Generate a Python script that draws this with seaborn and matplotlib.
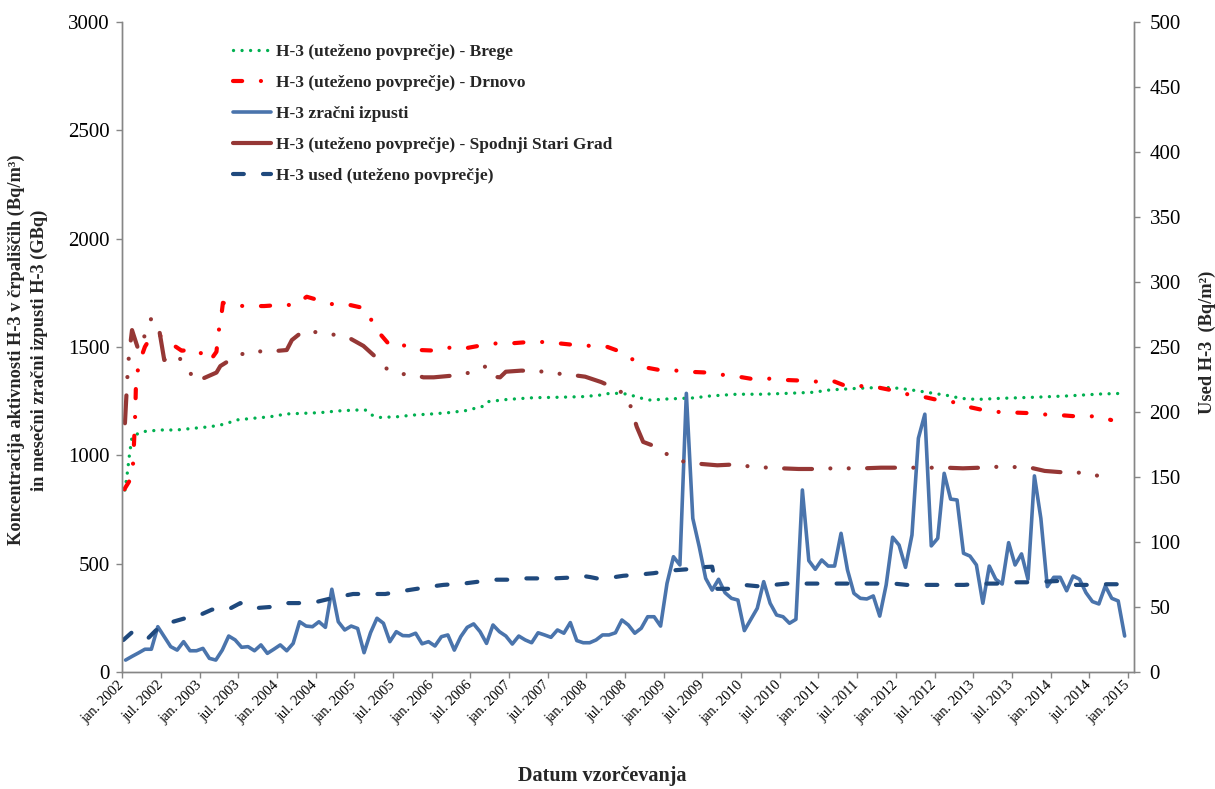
import numpy as np
import pandas as pd
import matplotlib
matplotlib.use("Agg")
import matplotlib.pyplot as plt
from matplotlib.lines import Line2D
import seaborn as sns

# ---------------- data (x = months since jan. 2002) ----------------
tick_labels = ["jan. 2002", "jul. 2002", "jan. 2003", "jul. 2003", "jan. 2004", "jul. 2004",
               "jan. 2005", "jul. 2005", "jan. 2006", "jul. 2006", "jan. 2007", "jul. 2007",
               "jan. 2008", "jul. 2008", "jan. 2009", "jul. 2009", "jan. 2010", "jul. 2010",
               "jan. 2011", "jul. 2011", "jan. 2012", "jul. 2012", "jan. 2013", "jul. 2013",
               "jan. 2014", "jul. 2014", "jan. 2015"]
tick_months = [6 * i for i in range(len(tick_labels))]

# H-3 zračni izpusti (GBq), monthly, jan 2002 .. dec 2014
izpusti_v = [55, 72, 88, 105, 105, 209, 163, 117, 101, 140, 98, 98,
             109, 63, 55, 101, 166, 148, 114, 117, 98, 125, 86, 105,
             125, 98, 132, 232, 212, 209, 232, 206, 382, 232, 194, 212,
             201, 89, 181, 248, 225, 140, 186, 168, 167, 179, 130, 140,
             120, 163, 171, 101, 163, 206, 222, 186, 132, 217, 186, 166,
             129, 166, 148, 135, 181, 171, 160, 194, 179, 228, 145, 135,
             135, 148, 171, 171, 181, 240, 217, 179, 202, 255, 255, 212,
             409, 532, 494, 1286, 709, 578, 432, 378, 428, 366, 340, 332,
             191, 243, 294, 417, 317, 263, 255, 225, 243, 840, 514, 474,
             517, 489, 489, 640, 471, 363, 340, 337, 351, 258, 402, 622,
             586, 483, 632, 1079, 1190, 582, 617, 917, 798, 794, 548, 535,
             494, 317, 489, 428, 406, 597, 494, 545, 428, 905, 709, 394,
             437, 437, 375, 443, 428, 366, 325, 314, 397, 340, 328, 166]
izpusti_m = [i + 0.5 for i in range(len(izpusti_v))]

# H-3 (uteženo povprečje) - Brege (Bq/m3)
brege_m = [0.4, 0.8, 1.1, 1.5, 3.0, 5.9, 8.4, 11.1, 13.6, 15.2, 16.3, 17.6, 20.3, 22.9,
           25.5, 28.1, 30.7, 33.5, 36.1, 37.7, 38.7, 40.0, 42.6, 45.2, 48.0, 50.6, 53.2,
           55.8, 56.8, 59.7, 63.8, 67.7, 71.5, 74.1, 75.4, 76.7, 78.3, 80.6, 81.9, 84.5,
           88.6, 91.2, 95.3, 99.2, 103.1, 107.2, 109.8, 114.0, 118.1, 120.7, 123.3, 125.9,
           128.5, 130.0, 132.6, 136.2, 141.4, 146.5, 151.7, 155.3]
brege_v = [840, 925, 1002, 1086, 1109, 1117, 1117, 1125, 1132, 1140, 1148, 1163, 1171, 1178,
           1191, 1194, 1197, 1205, 1209, 1209, 1186, 1175, 1178, 1186, 1191, 1197, 1206,
           1225, 1248, 1258, 1266, 1268, 1271, 1278, 1285, 1286, 1283, 1263, 1255, 1260,
           1265, 1274, 1282, 1282, 1286, 1291, 1302, 1309, 1314, 1309, 1298, 1286,
           1274, 1263, 1258, 1263, 1268, 1274, 1283, 1286]

# H-3 (uteženo povprečje) - Drnovo (Bq/m3)
drnovo_m = [0.3, 1.5, 1.7, 2.0, 2.1, 2.5, 3.5, 4.3, 5.5, 7.9, 9.2, 11.6, 13.5, 14.6, 14.9,
            15.3, 15.6, 17.5, 20.1, 22.0, 24.5, 26.8, 28.6, 30.7, 33.0, 35.3, 37.7, 38.9,
            40.0, 41.7, 44.4, 46.2, 48.7, 51.4, 53.2, 55.8, 58.1, 60.4, 63.0, 65.6, 67.7,
            70.3, 72.8, 75.2, 77.3, 79.3, 81.1, 83.3, 86.0, 88.4, 90.8, 93.3, 95.6, 98.0,
            100.5, 102.7, 105.3, 107.9, 110.1, 112.5, 115.0, 117.1, 119.8, 122.3, 124.6,
            127.0, 129.6, 131.5, 134.0, 136.7, 138.8, 141.4, 144.0, 146.2, 148.7, 151.2, 153.4]
drnovo_v = [843, 901, 978, 1194, 1317, 1417, 1501, 1540, 1560, 1509, 1483, 1489, 1432, 1478, 1566,
            1629, 1704, 1690, 1689, 1689, 1694, 1694, 1732, 1714, 1694, 1694, 1678, 1609,
            1560, 1501, 1509, 1486, 1483, 1501, 1494, 1508, 1517, 1517, 1523, 1523, 1517,
            1509, 1505, 1501, 1478, 1440, 1406, 1394, 1391, 1385, 1382, 1371, 1363, 1351,
            1354, 1348, 1345, 1340, 1345, 1317, 1320, 1314, 1298, 1278, 1268,
            1252, 1243, 1222, 1206, 1198, 1197, 1194, 1186, 1184, 1178, 1181, 1163]

# H-3 (uteženo povprečje) - Spodnji Stari Grad (Bq/m3)
ssg_m = [0.4, 0.8, 1.0, 1.5, 2.5, 3.5, 4.5, 5.7, 6.5, 8.5, 10.0, 11.4, 14.6, 15.2, 17.5,
         19.9, 22.4, 25.5, 26.3, 28.1, 30.8, 33.2, 35.3, 37.4, 39.4, 41.2, 43.6, 45.4, 46.7,
         48.3, 50.9, 53.4, 56.0, 56.5, 57.6, 58.6, 59.5, 61.9, 64.5, 67.1, 69.0, 71.8, 74.3,
         76.7, 78.4, 79.8, 80.8, 83.2, 85.1, 87.1, 89.9, 92.3, 95.1, 97.7, 102.3, 104.9,
         107.6, 110.2, 115.0, 117.7, 120.3, 122.8, 127.9, 130.4, 133.1, 135.7, 140.6,
         143.1, 145.7, 148.4, 153.0]
ssg_v = [1148, 1371, 1452, 1578, 1486, 1555, 1633, 1582, 1440, 1463, 1405, 1340, 1382, 1412, 1455,
         1482, 1478, 1486, 1532, 1575, 1566, 1555, 1540, 1505, 1451, 1394, 1375, 1371, 1360,
         1360, 1367, 1378, 1406, 1412, 1363, 1360, 1386, 1391, 1389, 1378, 1374, 1363, 1338,
         1306, 1271, 1132, 1062, 1035, 991, 971, 960, 954, 958, 947, 940, 937,
         937, 940, 940, 943, 943, 943, 943, 940, 943, 947, 945,
         928, 922, 920, 898]

# H-3 used (uteženo povprečje) (Bq/m2), right axis
used_m = [0.16, 1.6, 4.0, 5.2, 7.4, 9.5, 12.1, 13.9, 16.4, 18.3, 20.3, 22.9, 25.0, 27.3, 30.2,
          32.7, 35.8, 38.4, 40.8, 43.1, 45.7, 48.3, 49.8, 52.9, 54.5, 57.6, 59.7, 62.2, 64.3,
          66.9, 69.0, 71.3, 72.6, 73.6, 75.7, 77.7, 80.3, 82.4, 85.0, 87.6, 89.6, 91.5, 92.2,
          94.0, 96.4, 98.5, 101.0, 103.1, 105.7, 107.7, 110.3, 112.4, 115.0, 117.3, 119.7,
          121.7, 125.4, 128.5, 130.6, 133.1, 136.2, 138.5, 140.6, 142.9, 145.2, 147.6, 149.7,
          152.2, 154.6]
used_v = [24.6, 31, 26, 32, 38, 41, 44, 48, 48, 53, 49, 50, 53, 53, 54,
          57, 60, 60, 60, 62, 64, 66, 67, 68, 69, 71, 71, 72, 72,
          72, 72.5, 74, 73, 72, 72.5, 74, 75, 76, 78, 79, 80.5, 81, 64,
          64, 67, 66, 67, 68, 68, 68, 68, 68, 68, 68, 68,
          67, 67, 67, 67, 68, 68, 69, 69, 69.5, 70, 67, 67,
          67.5, 67.5]

labels = ["H-3 (uteženo povprečje) - Brege",
          "H-3 (uteženo povprečje) - Drnovo",
          "H-3 zračni izpusti",
          "H-3 (uteženo povprečje) - Spodnji Stari Grad",
          "H-3 used (uteženo povprečje)"]

# ---------------- style ----------------
sns.set_theme(style="white")
plt.rcParams['font.family'] = ['Liberation Serif', 'DejaVu Serif']
plt.rcParams['axes.linewidth'] = 1.0

fig = plt.figure(figsize=(12.15, 7.89), dpi=100)
ax = fig.add_axes([0.1007, 0.1483, 0.8329, 0.8238])
ax2 = ax.twinx()

C_GREEN = '#00B050'
C_RED = '#FF0000'
C_BLUE = '#4A74AC'
C_BROWN = '#953735'
C_DBLUE = '#1F497D'

sns.lineplot(x=brege_m, y=brege_v, ax=ax, color=C_GREEN, linewidth=2.4,
             linestyle=(0, (0.01, 2.55)), dash_capstyle='round', legend=False)
sns.lineplot(x=drnovo_m, y=drnovo_v, ax=ax, color=C_RED, linewidth=3.0,
             linestyle=(0, (2.2, 4.5, 0.01, 4.5)), dash_capstyle='round', legend=False)
sns.lineplot(x=izpusti_m, y=izpusti_v, ax=ax, color=C_BLUE, linewidth=2.6,
             solid_joinstyle='round', legend=False)
sns.lineplot(x=ssg_m, y=ssg_v, ax=ax, color=C_BROWN, linewidth=3.0,
             linestyle=(0, (6.7, 4.4, 0.01, 4.4, 0.01, 4.4)), dash_capstyle='round', legend=False)
sns.lineplot(x=used_m, y=used_v, ax=ax2, color=C_DBLUE, linewidth=3.0,
             linestyle=(0, (2.6, 4.6)), dash_capstyle='round', legend=False)

ax.set_xlim(0, 157)
ax.set_ylim(0, 3000)
ax2.set_ylim(0, 500)
ax.set_yticks(range(0, 3001, 500))
ax2.set_yticks(range(0, 501, 50))
ax.set_xticks(tick_months)
ax.set_xticklabels(tick_labels, rotation=45, ha='right', va='center', rotation_mode='anchor')

grey = '#868686'
for a in (ax, ax2):
    for s in a.spines.values():
        s.set_color(grey)
    a.spines['top'].set_visible(False)
    a.grid(False)
    a.set_xlabel('')
    a.set_ylabel('')

ax.tick_params(axis='y', which='both', left=True, right=False, direction='out', length=4,
               width=1, color=grey, labelsize=15, pad=5, labelcolor='black')
ax.tick_params(axis='x', which='both', bottom=True, direction='out', length=4, width=1,
               color=grey, labelsize=10.5, pad=4, labelcolor='black')
ax2.tick_params(axis='y', which='both', right=True, left=False, direction='out', length=4,
                width=1, color=grey, labelsize=15, pad=7, labelcolor='black')

# legend (brown sample is drawn solid, as in the reference legend)
handles = ax.get_lines() + ax2.get_lines()
handles[3] = Line2D([], [], color=C_BROWN, linewidth=3.0, solid_capstyle='round')
leg = ax2.legend(handles, labels, loc='upper left', bbox_to_anchor=(0.1918, 1 - 44 / 789),
                 bbox_transform=fig.transFigure, frameon=False, borderpad=0, borderaxespad=0,
                 handlelength=2.2, handletextpad=0.3, labelspacing=0.85,
                 prop={'weight': 'bold', 'size': 12.5})

fig.text(28 / 1215, 1 - 350 / 789,
         "Koncentracija aktivnosti H-3 v črpališčih (Bq/m³)\nin mesečni zračni izpusti H-3 (GBq)",
         rotation=90, ha='center', va='center', fontsize=13.2, fontweight='bold',
         linespacing=1.4)
fig.text(1207 / 1215, 1 - 342 / 789, "Used H-3  (Bq/m²)", rotation=90, ha='center',
         va='center', fontsize=13.2, fontweight='bold')
fig.text(602 / 1215, 1 - 776 / 789, "Datum vzorčevanja", ha='center', va='center',
         fontsize=14.5, fontweight='bold')

fig.savefig("out.png", dpi=100)
